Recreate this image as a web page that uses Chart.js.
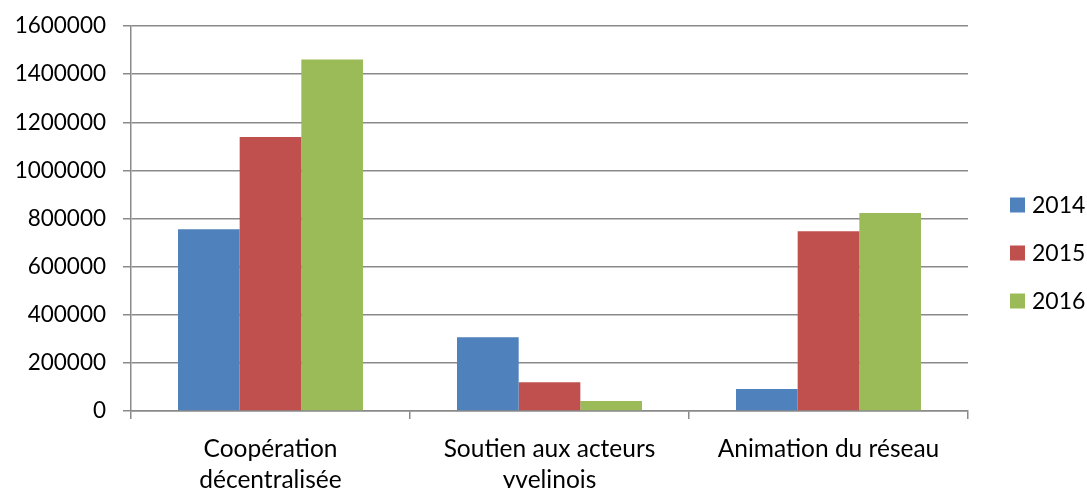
<!DOCTYPE html>
<html lang="fr">
<head>
<meta charset="utf-8">
<title>Budget par action</title>
<script src="https://cdn.jsdelivr.net/npm/chart.js@4/dist/chart.umd.min.js"></script>
<style>
  html, body { margin: 0; padding: 0; background: #fff; }
  canvas { display: block; }
</style>
</head>
<body>
<canvas id="graphique" width="1087" height="488"></canvas>
<script>
// Catégories et montants par année
const categories = [
    ['Coopération', 'décentralisée'],
    ['Soutien aux acteurs', 'yvelinois'],
    'Animation du réseau'
];
const annees = ['2014', '2015', '2016'];
const montants2014 = [755000, 306000, 91000];
const montants2015 = [1139000, 119000, 747000];
const montants2016 = [1461000, 41500, 823000];
const graduations = [0, 200000, 400000, 600000, 800000, 1000000, 1200000, 1400000, 1600000];

const couleurs = ['#4F81BD', '#C0504D', '#9BBB59'];
const gris = '#8a8a8a';
const police = 'Lato, "Open Sans", sans-serif';

// Légende à droite, carrés pleins + année
const legendeDroite = {
    id: 'legendeDroite',
    afterDraw(chart) {
        const ctx = chart.ctx;
        const x = chart.chartArea.right + 42;
        const yCentre = 253;
        const pas = 48;
        ctx.save();
        ctx.font = '23px ' + police;
        ctx.textBaseline = 'middle';
        ctx.textAlign = 'left';
        chart.data.datasets.forEach((ds, i) => {
            const y = yCentre + (i - 1) * pas;
            ctx.fillStyle = ds.backgroundColor;
            ctx.fillRect(x, y - 7.5, 15, 15);
            ctx.fillStyle = '#000';
            ctx.fillText(ds.label, x + 22, y + 1);
        });
        ctx.restore();
    }
};

new Chart(document.getElementById('graphique'), {
    type: 'bar',
    data: {
        labels: categories,
        datasets: [
            { label: annees[0], data: montants2014, backgroundColor: couleurs[0] },
            { label: annees[1], data: montants2015, backgroundColor: couleurs[1] },
            { label: annees[2], data: montants2016, backgroundColor: couleurs[2] }
        ]
    },
    options: {
        responsive: false,
        animation: false,
        layout: { padding: { top: 26, right: 119, left: 0, bottom: 0 } },
        datasets: {
            bar: { categoryPercentage: 0.663, barPercentage: 1, borderWidth: 0 }
        },
        plugins: {
            legend: { display: false },
            tooltip: { enabled: false }
        },
        scales: {
            x: {
                offset: true,
                grid: {
                    offset: true,
                    drawOnChartArea: false,
                    drawTicks: true,
                    tickLength: 8,
                    color: gris,
                    lineWidth: 1.5
                },
                border: { color: gris, width: 1.5 },
                ticks: {
                    color: '#000',
                    padding: 15,
                    maxRotation: 0,
                    autoSkip: false,
                    font: { family: police, size: 24.5, lineHeight: 1.25 }
                },
                afterFit(scale) { scale.height = 77; }
            },
            y: {
                min: 0,
                max: 1600000,
                afterBuildTicks(scale) {
                    scale.ticks = graduations.map(v => ({ value: v }));
                },
                grid: {
                    color: gris,
                    lineWidth: 1.5,
                    tickLength: 8
                },
                border: { color: gris, width: 1.5 },
                ticks: {
                    color: '#000',
                    padding: 17,
                    font: { family: police, size: 22.5 },
                    callback: v => String(v)
                },
                afterFit(scale) {
                    scale.width = 131;
                    scale.paddingTop = 0;
                    scale.paddingBottom = 0;
                }
            }
        }
    },
    plugins: [legendeDroite]
});
</script>
</body>
</html>
